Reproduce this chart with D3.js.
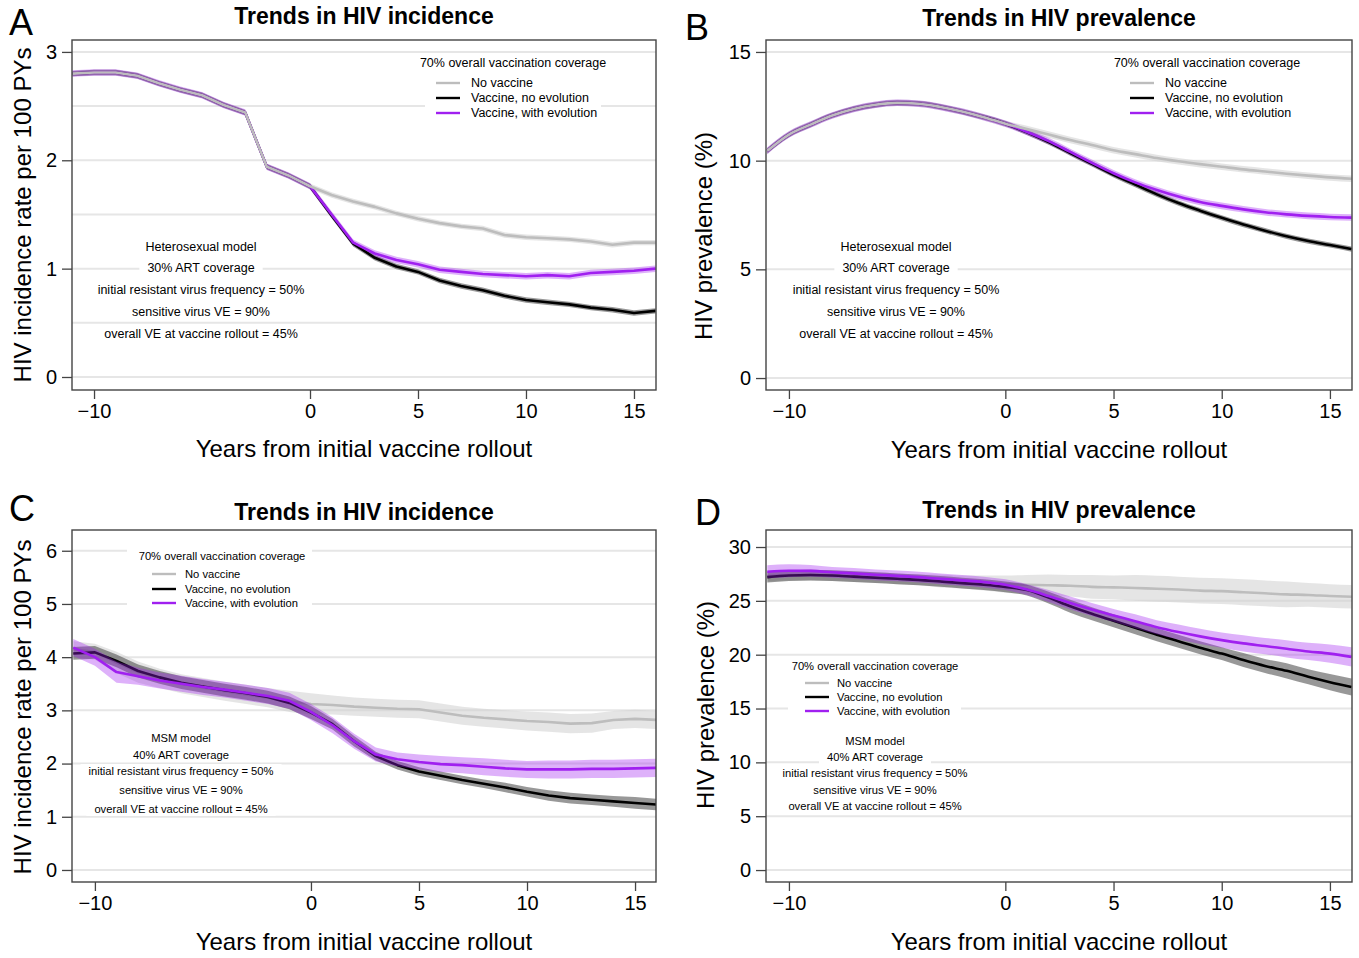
<!DOCTYPE html>
<html>
<head>
<meta charset="utf-8">
<script src="https://cdn.jsdelivr.net/npm/d3@7"></script>
<style>
  body { margin: 0; background: #fff; }
  text { font-family: "Liberation Sans", Arial, Helvetica, sans-serif; fill: #000; }
</style>
</head>
<body>
<div id="main"></div>
<script>
// years from initial vaccine rollout
const years = [-11, -10, -9, -8, -7, -6, -5, -4, -3, -2, -1, 0, 1, 2, 3, 4, 5, 6, 7, 8, 9, 10, 11, 12, 13, 14, 15, 16];
const xTicks = [-10, 0, 5, 10, 15];

const seriesNames = ["No vaccine", "Vaccine, no evolution", "Vaccine, with evolution"];
const legendTitle = "70% overall vaccination coverage";
const notesHet = ["Heterosexual model", "30% ART coverage", "initial resistant virus frequency = 50%",
  "sensitive virus VE = 90%", "overall VE at vaccine rollout = 45%"];
const notesMsm = ["MSM model", "40% ART coverage", "initial resistant virus frequency = 50%",
  "sensitive virus VE = 90%", "overall VE at vaccine rollout = 45%"];

// A - heterosexual incidence
const incA_noVax   = [2.80, 2.81, 2.81, 2.78, 2.71, 2.65, 2.60, 2.51, 2.44, 1.94, 1.86, 1.76, 1.68, 1.62, 1.57, 1.51, 1.46, 1.42, 1.39, 1.37, 1.31, 1.29, 1.28, 1.27, 1.25, 1.22, 1.24, 1.24];
const incA_noEvo   = [2.80, 2.81, 2.81, 2.78, 2.71, 2.65, 2.60, 2.51, 2.44, 1.94, 1.86, 1.76, 1.49, 1.23, 1.10, 1.02, 0.97, 0.89, 0.84, 0.80, 0.75, 0.71, 0.69, 0.67, 0.64, 0.62, 0.59, 0.61];
const incA_withEvo = [2.80, 2.81, 2.81, 2.78, 2.71, 2.65, 2.60, 2.51, 2.44, 1.94, 1.86, 1.76, 1.50, 1.24, 1.14, 1.08, 1.04, 0.99, 0.97, 0.95, 0.94, 0.93, 0.94, 0.93, 0.96, 0.97, 0.98, 1.00];
const bandA = [0.025, 0.025, 0.03];

// B - heterosexual prevalence
const prevB_noVax   = [10.45, 11.2, 11.66, 12.08, 12.38, 12.57, 12.66, 12.62, 12.47, 12.26, 12.0, 11.7, 11.45, 11.2, 10.95, 10.72, 10.48, 10.3, 10.12, 9.97, 9.84, 9.72, 9.6, 9.5, 9.4, 9.31, 9.23, 9.17];
const prevB_noEvo   = [10.45, 11.2, 11.66, 12.08, 12.38, 12.57, 12.66, 12.62, 12.47, 12.26, 12.0, 11.7, 11.3, 10.85, 10.35, 9.85, 9.35, 8.9, 8.45, 8.05, 7.7, 7.37, 7.06, 6.78, 6.52, 6.3, 6.12, 5.93];
const prevB_withEvo = [10.45, 11.2, 11.66, 12.08, 12.38, 12.57, 12.66, 12.62, 12.47, 12.26, 12.0, 11.7, 11.32, 10.9, 10.4, 9.9, 9.42, 9.0, 8.65, 8.35, 8.1, 7.92, 7.76, 7.63, 7.53, 7.46, 7.41, 7.38];
const bandB = [0.15, 0.12, 0.15];

// C - MSM incidence
const incC_noVax   = [4.15, 4.10, 3.90, 3.72, 3.60, 3.50, 3.43, 3.36, 3.30, 3.24, 3.17, 3.12, 3.10, 3.07, 3.05, 3.03, 3.02, 2.96, 2.90, 2.86, 2.83, 2.80, 2.78, 2.75, 2.76, 2.82, 2.84, 2.82];
const incC_noEvo   = [4.07, 4.09, 3.93, 3.74, 3.62, 3.52, 3.45, 3.38, 3.32, 3.25, 3.14, 2.96, 2.74, 2.42, 2.14, 1.97, 1.85, 1.77, 1.69, 1.62, 1.55, 1.47, 1.40, 1.35, 1.32, 1.29, 1.26, 1.23];
const incC_withEvo = [4.18, 4.00, 3.72, 3.64, 3.56, 3.50, 3.44, 3.39, 3.33, 3.27, 3.18, 2.97, 2.72, 2.42, 2.17, 2.08, 2.03, 1.99, 1.97, 1.94, 1.91, 1.89, 1.89, 1.89, 1.90, 1.90, 1.91, 1.92];
const bandC_noVax   = [0.15, 0.15, 0.20, 0.20, 0.18, 0.18, 0.18, 0.18, 0.18, 0.18, 0.20, 0.20, 0.18, 0.17, 0.17, 0.17, 0.17, 0.17, 0.17, 0.17, 0.17, 0.18, 0.18, 0.18, 0.18, 0.17, 0.17, 0.17];
const bandC_noEvo   = [0.12, 0.12, 0.12, 0.12, 0.12, 0.12, 0.12, 0.12, 0.12, 0.12, 0.12, 0.12, 0.10, 0.10, 0.08, 0.08, 0.08, 0.08, 0.08, 0.08, 0.09, 0.09, 0.10, 0.10, 0.10, 0.10, 0.11, 0.11];
const bandC_withEvo = [0.16, 0.16, 0.20, 0.16, 0.15, 0.15, 0.15, 0.15, 0.15, 0.15, 0.15, 0.15, 0.15, 0.14, 0.13, 0.13, 0.14, 0.15, 0.15, 0.16, 0.16, 0.16, 0.17, 0.17, 0.17, 0.17, 0.17, 0.17];

// D - MSM prevalence
const prevD_noVax   = [27.3, 27.4, 27.4, 27.35, 27.25, 27.15, 27.05, 26.95, 26.85, 26.75, 26.65, 26.55, 26.5, 26.45, 26.4, 26.3, 26.25, 26.2, 26.12, 26.05, 25.95, 25.9, 25.8, 25.7, 25.6, 25.55, 25.45, 25.38];
const prevD_noEvo   = [27.2, 27.35, 27.4, 27.35, 27.25, 27.15, 27.05, 26.95, 26.8, 26.65, 26.5, 26.3, 26.0, 25.3, 24.5, 23.8, 23.15, 22.5, 21.85, 21.25, 20.65, 20.1, 19.5, 18.95, 18.5, 17.95, 17.45, 17.0];
const prevD_withEvo = [27.7, 27.8, 27.78, 27.65, 27.55, 27.42, 27.32, 27.2, 27.05, 26.9, 26.75, 26.5, 26.05, 25.45, 24.8, 24.2, 23.65, 23.1, 22.55, 22.1, 21.7, 21.35, 21.05, 20.8, 20.55, 20.3, 20.1, 19.8];
const bandD_noVax   = [0.5, 0.5, 0.5, 0.5, 0.5, 0.5, 0.5, 0.5, 0.6, 0.6, 0.7, 0.8, 0.9, 1.0, 1.0, 1.1, 1.1, 1.2, 1.2, 1.2, 1.2, 1.2, 1.2, 1.2, 1.2, 1.1, 1.1, 1.1];
const bandD_noEvo   = [0.5, 0.5, 0.5, 0.5, 0.5, 0.5, 0.5, 0.5, 0.5, 0.5, 0.5, 0.5, 0.5, 0.55, 0.6, 0.6, 0.6, 0.6, 0.6, 0.6, 0.6, 0.6, 0.65, 0.65, 0.7, 0.7, 0.75, 0.8];
const bandD_withEvo = [0.6, 0.6, 0.55, 0.5, 0.5, 0.5, 0.5, 0.5, 0.5, 0.5, 0.5, 0.5, 0.5, 0.55, 0.6, 0.6, 0.6, 0.65, 0.65, 0.7, 0.7, 0.7, 0.75, 0.75, 0.8, 0.8, 0.85, 0.9];

const lineColors = ["#bdbdbd", "#000000", "#a020f0"];
const bandColors = ["#cfcfcf", "#444444", "#a020f0"];
const bandOpacity = [0.55, 0.55, 0.35];

class Panel {
  constructor(svg, config) {
    this.svg = svg;
    this.config = config;
    this.g = null;
    this.xScale = null;
    this.yScale = null;

    this.createGroup();
    this.createScales();
  }

  createGroup() {
    const c = this.config;
    this.g = this.svg.append('g')
      .attr('transform', `translate(${c.left},${c.top})`);
    this.g.append('clipPath')
      .attr('id', 'clip' + c.id)
      .append('rect')
      .attr('width', c.width)
      .attr('height', c.height);
  }

  createScales() {
    const c = this.config;
    this.xScale = d3.scaleLinear().domain(c.xDomain).range([0, c.width]);
    this.yScale = d3.scaleLinear().domain(c.yDomain).range([c.height, 0]);
  }

  createGrid() {
    const c = this.config;
    this.g.append('g')
      .selectAll('line')
      .data(c.grid)
      .join('line')
      .attr('x1', 0)
      .attr('x2', c.width)
      .attr('y1', d => this.yScale(d))
      .attr('y2', d => this.yScale(d))
      .style('stroke', '#e6e6e6')
      .style('stroke-width', 2);
  }

  createAxis() {
    const c = this.config;
    let xAxis = d3.axisBottom(this.xScale).tickValues(xTicks).tickSize(9).tickPadding(5)
      .tickFormat(d3.format('d'));
    let yAxis = d3.axisLeft(this.yScale).tickValues(c.yTicks).tickSize(10).tickPadding(5)
      .tickFormat(d3.format('d'));

    const gx = this.g.append('g')
      .attr('transform', `translate(0,${c.height})`)
      .call(xAxis);
    const gy = this.g.append('g').call(yAxis);

    [gx, gy].forEach(a => {
      a.select('.domain').remove();
      a.selectAll('line').style('stroke', '#444').style('stroke-width', 1.3);
      a.selectAll('text').style('font-size', '20px').style('fill', '#000')
        .style('font-family', '"Liberation Sans", Arial, sans-serif');
    });
  }

  createSeries() {
    const c = this.config;
    const plot = this.g.append('g').attr('clip-path', `url(#clip${c.id})`);
    const rows = c.series.map((vals, s) => years.map((t, i) => ({
      t: t,
      v: vals[i],
      b: Array.isArray(c.bands[s]) ? c.bands[s][i] : c.bands[s]
    })));

    const area = d3.area()
      .x(d => this.xScale(d.t))
      .y0(d => this.yScale(d.v - d.b))
      .y1(d => this.yScale(d.v + d.b))
      .curve(c.curve);
    const line = d3.line()
      .x(d => this.xScale(d.t))
      .y(d => this.yScale(d.v))
      .curve(c.curve);

    const drawBand = s => plot.append('path').attr('d', area(rows[s]))
      .style('fill', bandColors[s]).style('fill-opacity', bandOpacity[s]).style('stroke', 'none');
    const drawLine = s => plot.append('path').attr('d', line(rows[s]))
      .style('fill', 'none').style('stroke', lineColors[s])
      .style('stroke-width', 2.6).style('stroke-linejoin', 'round');

    if (c.bandsFirst) {
      [0, 1, 2].forEach(drawBand);
      c.lineOrder.forEach(drawLine);
    } else {
      c.lineOrder.forEach(s => { drawBand(s); drawLine(s); });
    }
  }

  createBox() {
    const c = this.config;
    this.g.append('rect')
      .attr('width', c.width)
      .attr('height', c.height)
      .style('fill', 'none')
      .style('stroke', '#444')
      .style('stroke-width', 1.4);
  }

  createLegend() {
    const c = this.config;
    const L = c.legend;
    const lg = this.g.append('g');
    lg.append('rect')
      .attr('x', L.box[0]).attr('y', L.box[1])
      .attr('width', L.box[2]).attr('height', L.box[3])
      .style('fill', '#fff');
    lg.append('text')
      .attr('x', L.titleX).attr('y', L.titleY)
      .attr('text-anchor', 'middle').attr('dominant-baseline', 'central')
      .style('font-size', c.smallFont + 'px')
      .text(legendTitle);
    lg.selectAll('line.key')
      .data(seriesNames)
      .join('line')
      .attr('class', 'key')
      .attr('x1', L.keyX).attr('x2', L.keyX + 24)
      .attr('y1', (d, i) => L.rowY[i]).attr('y2', (d, i) => L.rowY[i])
      .style('stroke', (d, i) => lineColors[i])
      .style('stroke-width', 2.4);
    lg.selectAll('text.lab')
      .data(seriesNames)
      .join('text')
      .attr('class', 'lab')
      .attr('x', L.textX)
      .attr('y', (d, i) => L.rowY[i])
      .attr('dominant-baseline', 'central')
      .style('font-size', c.smallFont + 'px')
      .text(d => d);
  }

  createNotes() {
    const c = this.config;
    const ng = this.g.append('g');
    c.notes.forEach((txt, i) => {
      const t = ng.append('text')
        .attr('x', c.noteX).attr('y', c.noteY[i])
        .attr('text-anchor', 'middle').attr('dominant-baseline', 'central')
        .style('font-size', c.smallFont + 'px')
        .text(txt);
      const bb = t.node().getBBox();
      ng.insert('rect', () => t.node())
        .attr('x', bb.x - 8).attr('y', bb.y - 1)
        .attr('width', bb.width + 16).attr('height', bb.height + 2)
        .style('fill', '#fff');
    });
  }

  createLabels() {
    const c = this.config;
    const midX = c.left + c.width / 2;
    this.svg.append('text')
      .attr('x', midX).attr('y', c.titleY)
      .attr('text-anchor', 'middle').attr('dominant-baseline', 'central')
      .style('font-size', '23px').style('font-weight', 'bold')
      .text(c.title);
    this.svg.append('text')
      .attr('x', midX).attr('y', c.xTitleY)
      .attr('text-anchor', 'middle').attr('dominant-baseline', 'central')
      .style('font-size', '24px')
      .text('Years from initial vaccine rollout');
    this.svg.append('text')
      .attr('transform', `translate(${c.yTitle[0]},${c.yTitle[1]}) rotate(-90)`)
      .attr('text-anchor', 'middle').attr('dominant-baseline', 'central')
      .style('font-size', '24px')
      .text(c.yLabel);
    this.svg.append('text')
      .attr('x', c.letter[0]).attr('y', c.letter[1])
      .attr('text-anchor', 'middle').attr('dominant-baseline', 'central')
      .style('font-size', '36px')
      .text(c.id);
  }
}

function main() {
  const svg = d3.select('#main').append('svg')
    .attr('width', 1359)
    .attr('height', 958);

  const legendTop = {box: [353, 32, 176, 49], titleX: 441, titleY: 23, keyX: 364, textX: 399, rowY: [43, 58, 73]};

  const configs = [
    {id: 'A', left: 72, top: 40, width: 584, height: 350,
     xDomain: [-11.02, 16.02], yDomain: [-0.12, 3.11], yTicks: [0, 1, 2, 3], grid: [0, 0.5, 1, 1.5, 2, 2.5, 3],
     series: [incA_noVax, incA_noEvo, incA_withEvo], bands: bandA, curve: d3.curveLinear,
     bandsFirst: true, lineOrder: [1, 2, 0],
     title: 'Trends in HIV incidence', titleY: 16, xTitleY: 448, yTitle: [22, 215],
     yLabel: 'HIV incidence rate per 100 PYs', letter: [21, 22],
     smallFont: 12.5, legend: legendTop, notes: notesHet, noteX: 129, noteY: [207, 228, 250, 272, 294]},
    {id: 'B', left: 766, top: 40, width: 586, height: 350,
     xDomain: [-11.06, 16.02], yDomain: [-0.55, 15.55], yTicks: [0, 5, 10, 15], grid: [0, 5, 10, 15],
     series: [prevB_noVax, prevB_noEvo, prevB_withEvo], bands: bandB, curve: d3.curveMonotoneX,
     bandsFirst: true, lineOrder: [1, 2, 0],
     title: 'Trends in HIV prevalence', titleY: 18, xTitleY: 449, yTitle: [703, 236],
     yLabel: 'HIV prevalence (%)', letter: [697, 27],
     smallFont: 12.5, legend: legendTop, notes: notesHet, noteX: 130, noteY: [207, 228, 250, 272, 294]},
    {id: 'C', left: 72, top: 530, width: 584, height: 352,
     xDomain: [-11.06, 15.97], yDomain: [-0.226, 6.39], yTicks: [0, 1, 2, 3, 4, 5, 6], grid: [0, 1, 2, 3, 4, 5, 6],
     series: [incC_noVax, incC_noEvo, incC_withEvo], bands: [bandC_noVax, bandC_noEvo, bandC_withEvo],
     curve: d3.curveLinear, bandsFirst: false, lineOrder: [0, 1, 2],
     title: 'Trends in HIV incidence', titleY: 512, xTitleY: 941, yTitle: [22, 707],
     yLabel: 'HIV incidence rate per 100 PYs', letter: [22, 508],
     smallFont: 11.2,
     legend: {box: [55, 15, 185, 67], titleX: 150, titleY: 26, keyX: 80, textX: 113, rowY: [44, 59, 73]},
     notes: notesMsm, noteX: 109, noteY: [208, 225, 241, 260, 279]},
    {id: 'D', left: 766, top: 530, width: 586, height: 352,
     xDomain: [-11.06, 16.02], yDomain: [-1.11, 31.58], yTicks: [0, 5, 10, 15, 20, 25, 30], grid: [0, 5, 10, 15, 20, 25, 30],
     series: [prevD_noVax, prevD_noEvo, prevD_withEvo], bands: [bandD_noVax, bandD_noEvo, bandD_withEvo],
     curve: d3.curveMonotoneX, bandsFirst: false, lineOrder: [0, 1, 2],
     title: 'Trends in HIV prevalence', titleY: 510, xTitleY: 941, yTitle: [705, 705],
     yLabel: 'HIV prevalence (%)', letter: [708, 512],
     smallFont: 11.2,
     legend: {box: [22, 127, 173, 61], titleX: 109, titleY: 136, keyX: 39, textX: 71, rowY: [153, 167, 181]},
     notes: notesMsm, noteX: 109, noteY: [211, 227, 243, 260, 276]}
  ];

  configs.forEach(c => {
    let p = new Panel(svg, c);
    p.createGrid();
    p.createSeries();
    p.createLegend();
    p.createNotes();
    p.createBox();
    p.createAxis();
    p.createLabels();
  });
}

main();
</script>
</body>
</html>
